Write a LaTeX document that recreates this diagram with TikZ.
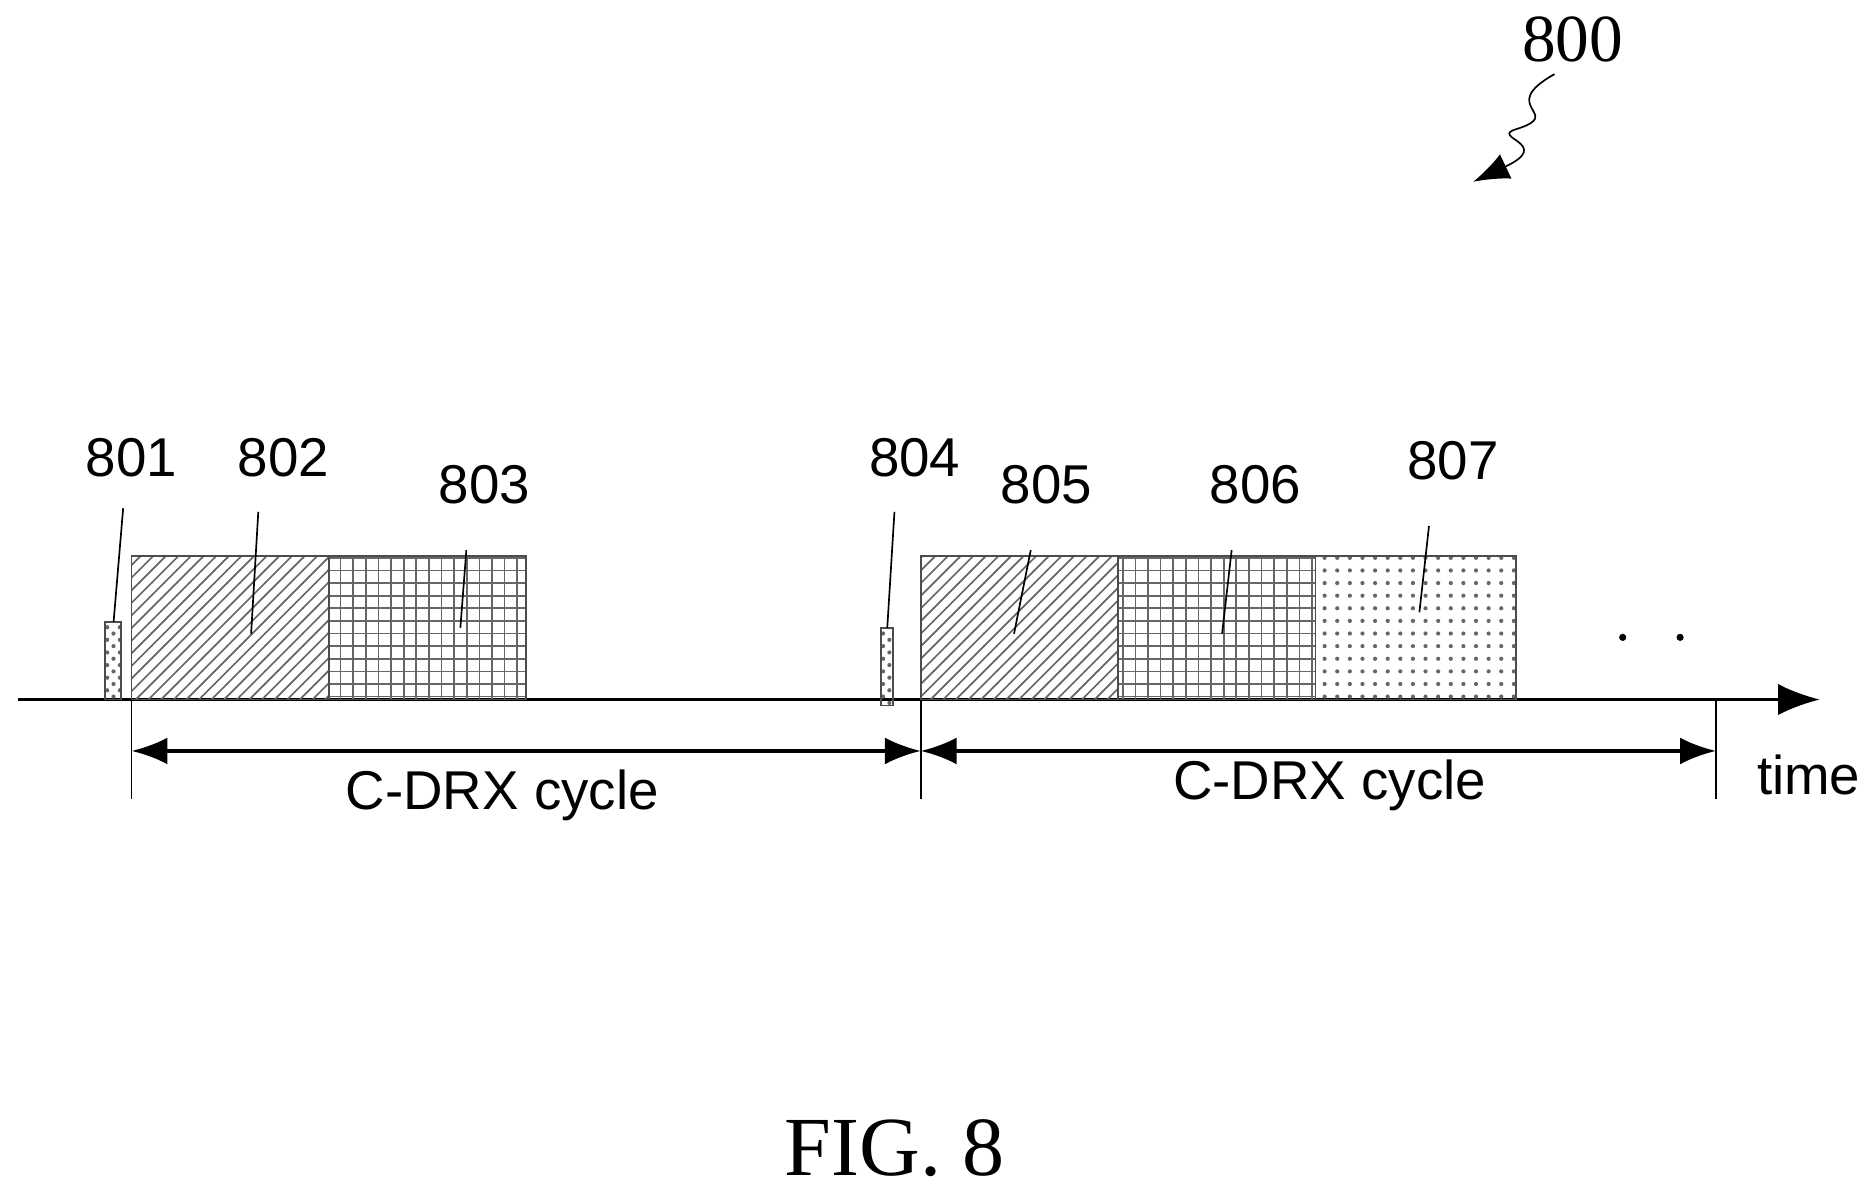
\documentclass[tikz,border=0pt]{standalone}
\usepackage{fontspec}
\setmainfont{Liberation Sans}
\newfontfamily\figfont{Liberation Serif}
\usetikzlibrary{patterns, arrows.meta}
\tikzset{
    block/.style={draw=black!70, thin, pattern color=black!60},   % the boxes on the time axis
    label/.style={font=\fontsize{13}{15}\selectfont},
    lead/.style={draw, thin},
    span/.style={draw, thick, {Latex[length=3mm]}-{Latex[length=3mm]}},
    tick/.style={draw, thin}
}

\begin{document}
\begin{tikzpicture}[x=0.01cm, y=-0.01cm]
    \useasboundingbox (0,0) rectangle (1568,994);
    % time axis
    \coordinate (start) at (15,585);
    \coordinate (end)   at (1522,585);
    \draw[thick, -{Latex[length=3.5mm]}] (start) -- (end);
    \node[label, anchor=east, inner sep=1pt] (time) at (1560,648) {time};

    % first cycle
    \draw[block, pattern=crosshatch dots] (88,520) rectangle (101,585);
    \draw[block, pattern=north east lines] (110,465) rectangle (275,585);
    \draw[block, pattern=grid] (275,465) rectangle (440,585);
    % second cycle
    \draw[block, pattern=crosshatch dots] (737,525) rectangle (747,590);
    \draw[block, pattern=north east lines] (770,465) rectangle (935,585);
    \draw[block, pattern=grid] (935,465) rectangle (1100,585);
    \draw[block, pattern=dots] (1100,465) rectangle (1268,585);

    % labels with leaders
    \node[label] (l801) at (110,383) {801};
    \node[label] (l802) at (237,383) {802};
    \node[label] (l803) at (405,405) {803};
    \node[label] (l804) at (765,383) {804};
    \node[label] (l805) at (875,405) {805};
    \node[label] (l806) at (1050,405) {806};
    \node[label] (l807) at (1215,385) {807};
    \coordinate (p801) at (95,520);
    \coordinate (p802) at (210,530);
    \coordinate (p803) at (385,525);
    \coordinate (p804) at (742,525);
    \coordinate (p805) at (848,530);
    \coordinate (p806) at (1022,530);
    \coordinate (p807) at (1187,512);
    \draw[lead] (103,425) -- (p801);
    \draw[lead] (216,428) -- (p802);
    \draw[lead] (390,460) -- (p803);
    \draw[lead] (748,428) -- (p804);
    \draw[lead] (862,460) -- (p805);
    \draw[lead] (1030,460) -- (p806);
    \draw[lead] (1195,440) -- (p807);

    \fill (1357,533) circle (3) (1405,533) circle (3);

    % cycle spans
    \coordinate (t1) at (110,668);
    \coordinate (t2) at (770,668);
    \coordinate (t3) at (1435,668);
    \draw[tick] (110,585) -- (t1);
    \draw[tick] (770,585) -- (t2);
    \draw[tick] (1435,585) -- (t3);
    \coordinate (a1) at (110,628);
    \coordinate (a2) at (770,628);
    \coordinate (a3) at (1435,628);
    \draw[span] (a1) -- (a2);
    \draw[span] (a2) -- (a3);
    \node[label] (c1) at (420,665) {C-DRX cycle};
    \node[label] (c2) at (1112,657) {C-DRX cycle};

    % reference numeral
    \node[font=\figfont\fontsize{16}{18}\selectfont] (n800) at (1315,33) {800};
    \coordinate (s0) at (1300,62);
    \draw[thin, -{Latex[length=3mm]}] (s0) .. controls (1250,90) and (1310,95) .. (1268,108)
        .. controls (1245,115) and (1300,120) .. (1232,152);

    \node[font=\figfont\fontsize{20}{22}\selectfont] (fig) at (748,960) {FIG. 8};
\end{tikzpicture}
\end{document}
